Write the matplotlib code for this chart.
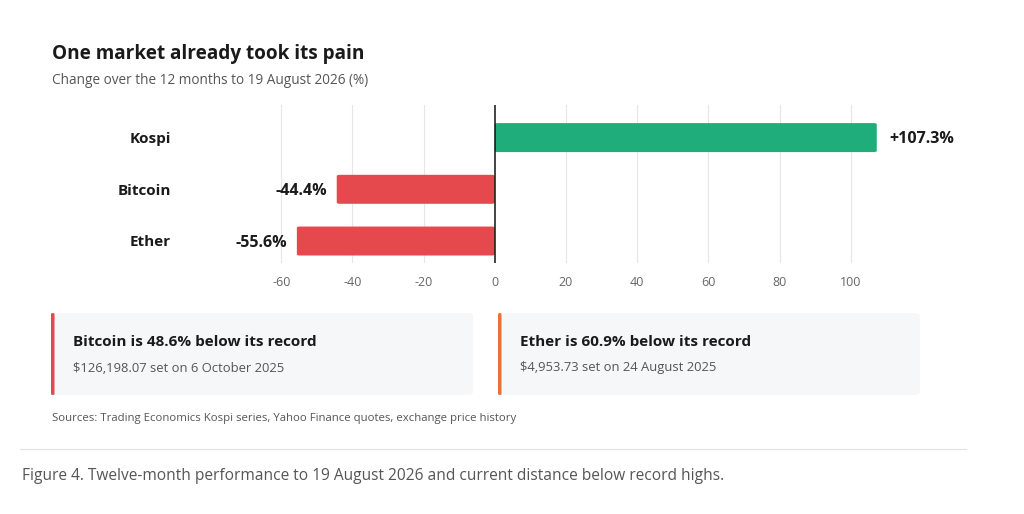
import matplotlib.pyplot as plt
from matplotlib.patches import FancyBboxPatch
from matplotlib.lines import Line2D

plt.rcParams['font.family'] = ['Open Sans', 'DejaVu Sans']

markets = ['Kospi', 'Bitcoin', 'Ether']
changes = [107.3, -44.4, -55.6]
ticks = [-60, -40, -20, 0, 20, 40, 60, 80, 100]

card_titles = ['Bitcoin is 48.6% below its record', 'Ether is 60.9% below its record']
card_notes = ['$126,198.07 set on 6 October 2025', '$4,953.73 set on 24 August 2025']
card_colors = ['#e5484d', '#e8713c']

GREEN = '#1fae7b'
RED = '#e5484d'
W, H = 1024, 514


def fx(px):
    return px / W


def fy(py):
    return 1 - py / H


fig = plt.figure(figsize=(10.24, 5.14), dpi=100)
fig.patch.set_facecolor('white')

# bar chart
ax = fig.add_axes([fx(210), fy(263), fx(922) - fx(210), fy(105) - fy(263)])
colors = [GREEN if v > 0 else RED for v in changes]
ypos = range(len(markets))
for y, v, c in zip(ypos, changes, colors):
    x0 = min(v, 0)
    ax.add_patch(FancyBboxPatch((x0, y - 0.28), abs(v), 0.56,
                                boxstyle='round,pad=0,rounding_size=0.8',
                                mutation_aspect=0.03,
                                facecolor=c, edgecolor='none', zorder=2))
    if v > 0:
        ax.text(v + 3.4, y + 0.03, f'+{v:.1f}%', ha='left', va='center', fontsize=11.5,
                fontweight='bold', color='#1a1a1a')
    else:
        ax.text(v - 2.8, y + 0.03, f'{v:.1f}%', ha='right', va='center', fontsize=11.5,
                fontweight='bold', color='#1a1a1a')

ax.set_xlim(-80, 120)
ax.set_ylim(2.425, -0.63)
ax.set_xticks(ticks)
ax.set_xticklabels([str(t) for t in ticks], fontsize=9, color='#666666')
ax.tick_params(axis='x', length=0, pad=9)
ax.set_yticks([])
for t in ticks:
    if t != 0:
        ax.axvline(t, color='#e6e6e6', lw=0.8, zorder=0)
ax.axvline(0, color='#111111', lw=1.1, zorder=3)
for s in ax.spines.values():
    s.set_visible(False)

for y, name in zip(ypos, markets):
    fig.text(fx(171), fy(139 + 51.75 * y), name, ha='right', va='center',
             fontsize=11, fontweight='bold', color='#1a1a1a')

# titles
fig.text(fx(52), fy(53.5), 'One market already took its pain', ha='left', va='center',
         fontsize=13.7, fontweight='bold', color='#1a1a1a')
fig.text(fx(52), fy(80.5), 'Change over the 12 months to 19 August 2026 (%)', ha='left',
         va='center', fontsize=9.85, color='#555555')

# cards
card_x = [52, 499]
for x0, title, note, c in zip(card_x, card_titles, card_notes, card_colors):
    fig.patches.append(FancyBboxPatch((fx(x0), fy(395)), fx(421), fy(313) - fy(395),
                                      boxstyle='round,pad=0,rounding_size=0.006',
                                      transform=fig.transFigure, facecolor='#f6f7f9',
                                      edgecolor='none', zorder=0))
    fig.patches.append(FancyBboxPatch((fx(x0 - 1), fy(395)), fx(3.5), fy(313) - fy(395),
                                      boxstyle='round,pad=0,rounding_size=0.002',
                                      transform=fig.transFigure, facecolor=c,
                                      edgecolor='none', zorder=1))
    fig.text(fx(x0 + 21), fy(342), title, ha='left', va='center', fontsize=11,
             fontweight='bold', color='#1a1a1a')
    fig.text(fx(x0 + 21), fy(368), note, ha='left', va='center', fontsize=9.4,
             color='#555555')

fig.text(fx(52), fy(418), 'Sources: Trading Economics Kospi series, Yahoo Finance quotes, '
         'exchange price history', ha='left', va='center', fontsize=8.2, color='#555555')

fig.lines.append(Line2D([fx(20), fx(966)], [fy(449), fy(449)], transform=fig.transFigure,
                        color='#e3e3e3', lw=0.9))

fig.text(fx(22), fy(475.5), 'Figure 4. Twelve-month performance to 19 August 2026 and current '
         'distance below record highs.', ha='left', va='center', fontsize=11.2,
         color='#555555')

fig.savefig('out.png', dpi=100, facecolor='white')
